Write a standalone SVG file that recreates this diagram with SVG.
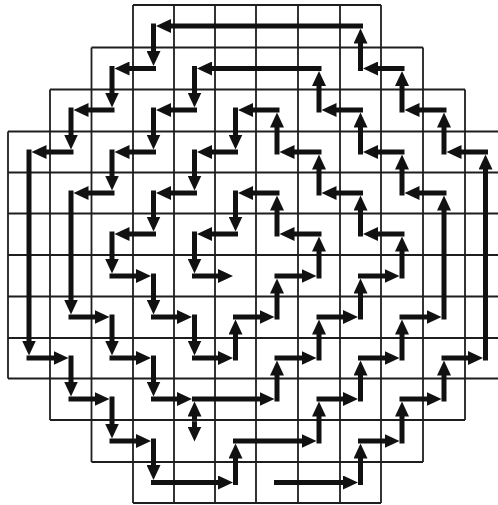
<svg xmlns="http://www.w3.org/2000/svg" width="498" height="505" viewBox="0 0 498 505">
<style>
.grid{fill:none;stroke:#1e1e1e;stroke-width:1.8}
.a{stroke:#111;stroke-width:5;fill:none;stroke-linecap:butt;marker-end:url(#ah)}
</style>
<defs>
<marker id="ah" markerUnits="userSpaceOnUse" markerWidth="16" markerHeight="14" viewBox="0 0 16 14" refX="1" refY="7" orient="auto">
<path d="M0,0 L15,7 L0,14 z" fill="#111"/>
</marker>
</defs>
<rect width="498" height="505" fill="#fff"/>
<g id="grid" class="grid">
<path d="M133,5H381 M91.5,47.5H423 M50,89.5H465 M8,131.5H506 M8,172.5H506 M8,213.5H506 M8,255H506 M8,296.5H506 M8,338H506 M8,378.5H506 M50,420H465 M91.5,462H423 M133,503H381"/>
<path d="M8,131.5V378.5 M50,89.5V420 M91.5,47.5V462 M133,5V503 M174,5V503 M215,5V503 M256,5V503 M298,5V503 M340,5V503 M381,5V503 M423,47.5V462 M465,89.5V420"/>
</g>
<g id="connectors">
<g id="loop0">
<line class="a" x1="274" y1="482.5" x2="344" y2="482.5"/>
<line class="a" x1="360.5" y1="485" x2="360.5" y2="457.5"/>
<line class="a" x1="358" y1="441" x2="385.5" y2="441"/>
<line class="a" x1="402" y1="443.5" x2="402" y2="415.5"/>
<line class="a" x1="399.5" y1="399" x2="427.5" y2="399"/>
<line class="a" x1="444" y1="401.5" x2="444" y2="374.5"/>
<line class="a" x1="441.5" y1="358" x2="469" y2="358"/>
<line class="a" x1="485.5" y1="360.5" x2="485.5" y2="168.5"/>
<line class="a" x1="488" y1="152" x2="460.5" y2="152"/>
<line class="a" x1="444" y1="154.5" x2="444" y2="126.5"/>
<line class="a" x1="446.5" y1="110" x2="418.5" y2="110"/>
<line class="a" x1="402" y1="112.5" x2="402" y2="85"/>
<line class="a" x1="404.5" y1="68.5" x2="377" y2="68.5"/>
<line class="a" x1="360.5" y1="71" x2="360.5" y2="42.5"/>
<line class="a" x1="363" y1="26" x2="170" y2="26"/>
<line class="a" x1="153.5" y1="23.5" x2="153.5" y2="52"/>
<line class="a" x1="156" y1="68.5" x2="128.5" y2="68.5"/>
<line class="a" x1="112" y1="66" x2="112" y2="93.5"/>
<line class="a" x1="114.5" y1="110" x2="87.5" y2="110"/>
<line class="a" x1="71" y1="107.5" x2="71" y2="135.5"/>
<line class="a" x1="73.5" y1="152" x2="45.5" y2="152"/>
<line class="a" x1="29" y1="149.5" x2="29" y2="341.5"/>
<line class="a" x1="26.5" y1="358" x2="54.5" y2="358"/>
<line class="a" x1="71" y1="355.5" x2="71" y2="382.5"/>
<line class="a" x1="68.5" y1="399" x2="95.5" y2="399"/>
<line class="a" x1="112" y1="396.5" x2="112" y2="424.5"/>
<line class="a" x1="109.5" y1="441" x2="137" y2="441"/>
<line class="a" x1="153.5" y1="438.5" x2="153.5" y2="466"/>
<line class="a" x1="151" y1="482.5" x2="219" y2="482.5"/>
<line class="a" x1="235.5" y1="485" x2="235.5" y2="457.5"/>
</g>
<g id="loop1">
<line class="a" x1="233" y1="441" x2="302.5" y2="441"/>
<line class="a" x1="319" y1="443.5" x2="319" y2="415.5"/>
<line class="a" x1="316.5" y1="399" x2="344" y2="399"/>
<line class="a" x1="360.5" y1="401.5" x2="360.5" y2="374.5"/>
<line class="a" x1="358" y1="358" x2="385.5" y2="358"/>
<line class="a" x1="402" y1="360.5" x2="402" y2="333.5"/>
<line class="a" x1="399.5" y1="317" x2="427.5" y2="317"/>
<line class="a" x1="444" y1="319.5" x2="444" y2="209.5"/>
<line class="a" x1="446.5" y1="193" x2="418.5" y2="193"/>
<line class="a" x1="402" y1="195.5" x2="402" y2="168.5"/>
<line class="a" x1="404.5" y1="152" x2="377" y2="152"/>
<line class="a" x1="360.5" y1="154.5" x2="360.5" y2="126.5"/>
<line class="a" x1="363" y1="110" x2="335.5" y2="110"/>
<line class="a" x1="319" y1="112.5" x2="319" y2="85"/>
<line class="a" x1="321.5" y1="68.5" x2="211" y2="68.5"/>
<line class="a" x1="194.5" y1="66" x2="194.5" y2="93.5"/>
<line class="a" x1="197" y1="110" x2="170" y2="110"/>
<line class="a" x1="153.5" y1="107.5" x2="153.5" y2="135.5"/>
<line class="a" x1="156" y1="152" x2="128.5" y2="152"/>
<line class="a" x1="112" y1="149.5" x2="112" y2="176.5"/>
<line class="a" x1="114.5" y1="193" x2="87.5" y2="193"/>
<line class="a" x1="71" y1="190.5" x2="71" y2="300.5"/>
<line class="a" x1="68.5" y1="317" x2="95.5" y2="317"/>
<line class="a" x1="112" y1="314.5" x2="112" y2="341.5"/>
<line class="a" x1="109.5" y1="358" x2="137" y2="358"/>
<line class="a" x1="153.5" y1="355.5" x2="153.5" y2="382.5"/>
<line class="a" x1="151" y1="399" x2="178" y2="399"/>
<line class="a" x1="192" y1="399" x2="260.5" y2="399"/>
<line class="a" x1="194.5" y1="421.5" x2="194.5" y2="415.5"/>
<line class="a" x1="194.5" y1="421.5" x2="194.5" y2="427.5"/>
</g>
<g id="loop2">
<line class="a" x1="277" y1="401.5" x2="277" y2="374.5"/>
<line class="a" x1="274.5" y1="358" x2="302.5" y2="358"/>
<line class="a" x1="319" y1="360.5" x2="319" y2="333.5"/>
<line class="a" x1="316.5" y1="317" x2="344" y2="317"/>
<line class="a" x1="360.5" y1="319.5" x2="360.5" y2="292.5"/>
<line class="a" x1="358" y1="276" x2="385.5" y2="276"/>
<line class="a" x1="402" y1="278.5" x2="402" y2="250.5"/>
<line class="a" x1="404.5" y1="234" x2="377" y2="234"/>
<line class="a" x1="360.5" y1="236.5" x2="360.5" y2="209.5"/>
<line class="a" x1="363" y1="193" x2="335.5" y2="193"/>
<line class="a" x1="319" y1="195.5" x2="319" y2="168.5"/>
<line class="a" x1="321.5" y1="152" x2="293.5" y2="152"/>
<line class="a" x1="277" y1="154.5" x2="277" y2="126.5"/>
<line class="a" x1="279.5" y1="110" x2="252" y2="110"/>
<line class="a" x1="235.5" y1="107.5" x2="235.5" y2="135.5"/>
<line class="a" x1="238" y1="152" x2="211" y2="152"/>
<line class="a" x1="194.5" y1="149.5" x2="194.5" y2="176.5"/>
<line class="a" x1="197" y1="193" x2="170" y2="193"/>
<line class="a" x1="153.5" y1="190.5" x2="153.5" y2="217.5"/>
<line class="a" x1="156" y1="234" x2="128.5" y2="234"/>
<line class="a" x1="112" y1="231.5" x2="112" y2="259.5"/>
<line class="a" x1="109.5" y1="276" x2="137" y2="276"/>
<line class="a" x1="153.5" y1="273.5" x2="153.5" y2="300.5"/>
<line class="a" x1="151" y1="317" x2="178" y2="317"/>
<line class="a" x1="194.5" y1="314.5" x2="194.5" y2="341.5"/>
<line class="a" x1="192" y1="358" x2="219" y2="358"/>
</g>
<g id="loop3">
<line class="a" x1="235.5" y1="360.5" x2="235.5" y2="333.5"/>
<line class="a" x1="233" y1="317" x2="260.5" y2="317"/>
<line class="a" x1="277" y1="319.5" x2="277" y2="292.5"/>
<line class="a" x1="274.5" y1="276" x2="302.5" y2="276"/>
<line class="a" x1="319" y1="278.5" x2="319" y2="250.5"/>
<line class="a" x1="321.5" y1="234" x2="293.5" y2="234"/>
<line class="a" x1="277" y1="236.5" x2="277" y2="209.5"/>
<line class="a" x1="279.5" y1="193" x2="252" y2="193"/>
<line class="a" x1="235.5" y1="190.5" x2="235.5" y2="217.5"/>
<line class="a" x1="238" y1="234" x2="211" y2="234"/>
<line class="a" x1="194.5" y1="231.5" x2="194.5" y2="259.5"/>
<line class="a" x1="192" y1="276" x2="219" y2="276"/>
</g>
</g>
</svg>
